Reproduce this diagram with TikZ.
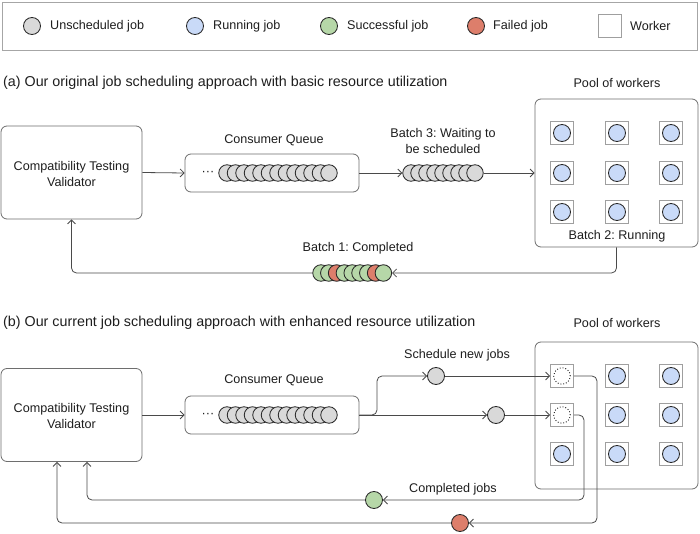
\documentclass[tikz,border=0pt]{standalone}
\usepackage{fontspec}
\setmainfont{Liberation Sans}
\usetikzlibrary{arrows.meta}
\definecolor{jgrey}{HTML}{D9D9D9}
\definecolor{jblue}{HTML}{C9DAF8}
\definecolor{jgreen}{HTML}{B6D7A8}
\definecolor{jred}{HTML}{DD7E6B}
\definecolor{edgec}{HTML}{6E6E6E}
\definecolor{linec}{HTML}{4A4A4A}
\definecolor{txtc}{HTML}{1E1E1E}
\frenchspacing
\begin{document}
\begin{tikzpicture}[x=1pt,y=-1pt,
  font=\fontsize{12.6}{16}\selectfont,
  every node/.style={text=txtc},
  job/.style={circle, draw=black!85, line width=0.85pt, minimum size=16.5pt, inner sep=0pt},
  bigjob/.style={job, minimum size=17pt},
  worker/.style={draw=gray!75, fill=white, line width=0.8pt, minimum size=23pt, inner sep=0pt},
  panel/.style={draw=edgec, line width=0.8pt, rounded corners=6pt, fill=white, inner sep=0pt},
  arr/.style={draw=linec, line width=0.8pt, -{Straight Barb[length=4pt,width=8pt]}},
  lbl/.style={inner sep=0pt, align=center},
  ttl/.style={lbl, font=\fontsize{14.3}{17}\selectfont}
]
\useasboundingbox (0,0) rectangle (700,534);
\fill[white] (0,0) rectangle (700,534);

% ---------------- legend ----------------
\node[draw=gray!70, line width=0.9pt, minimum width=695pt, minimum height=48pt, inner sep=0pt] (legend) at (349.5,26) {};
\node[bigjob, fill=jgrey] (lg1) at (32,26) {};
\node[lbl, anchor=west] (lt1) at (50,26) {Unscheduled job};
\node[bigjob, fill=jblue] (lg2) at (195,26) {};
\node[lbl, anchor=west] (lt2) at (213,26) {Running job};
\node[bigjob, fill=jgreen] (lg3) at (329,26) {};
\node[lbl, anchor=west] (lt3) at (347,26) {Successful job};
\node[bigjob, fill=jred] (lg4) at (476,26) {};
\node[lbl, anchor=west] (lt4) at (493,26) {Failed job};
\node[worker] (lg5) at (610,26) {};
\node[lbl, anchor=west] (lt5) at (630,26) {Worker};

% ---------------- part (a) ----------------
\node[ttl, anchor=west] (titleA) at (3,83) {(a) Our original job scheduling approach with basic resource utilization};

\node[panel, minimum width=141pt, minimum height=93pt] (ctvA) at (71.5,172.5) {};
\node[lbl] (ctvAt) at (71.5,174) {Compatibility Testing\\Validator};

\node[panel, minimum width=174pt, minimum height=38pt] (qA) at (272,173) {};
\node[lbl] (qAl) at (274,140) {Consumer Queue};
\node[lbl] (qAd) at (208,173) {\textperiodcentered\textperiodcentered\textperiodcentered};
\foreach \i in {1,...,13} \node[job, fill=jgrey] (qa\i) at ({227+(\i-1)*8.5},173) {};

\draw[arr] (ctvA.east) -- (qA.west);

\foreach \i in {1,...,9} \node[job, fill=jgrey] (bt\i) at ({411+(\i-1)*8},173) {};
\node[lbl] (btl) at (443,140.5) {Batch 3: Waiting to\\be scheduled};
\draw[arr] (qA.east) -- (bt1.west);

\node[panel, minimum width=163pt, minimum height=148pt] (poolA) at (616.5,173) {};
\node[lbl] (poolAl) at (617,83) {Pool of workers};
\foreach \r/\y in {1/133,2/173,3/212}
  \foreach \c/\x in {1/562,2/617,3/671} {
    \node[worker] (wa\r\c) at (\x,\y) {};
    \node[bigjob, fill=jblue] (ja\r\c) at (\x,\y) {};
  }
\node[lbl] (runl) at (617,236) {Batch 2: Running};
\draw[arr] (bt9.east) -- (poolA.west);

\foreach \i/\col in {1/jgreen,2/jgreen,3/jred,4/jgreen,5/jgreen,6/jgreen,7/jgreen,8/jred,9/jgreen}
  \node[job, fill=\col] (bo\i) at ({321+(\i-1)*7.8},273) {};
\node[lbl] (bol) at (358,248) {Batch 1: Completed};
\draw[arr, rounded corners=5pt] (poolA.south) |- (bo9.east);
\draw[arr, rounded corners=5pt] (bo1.west) -| (ctvA.south);

% ---------------- part (b) ----------------
\node[ttl, anchor=west] (titleB) at (3,323) {(b) Our current job scheduling approach with enhanced resource utilization};

\node[panel, minimum width=141pt, minimum height=93pt] (ctvB) at (71.5,415) {};
\node[lbl] (ctvBt) at (71.5,416) {Compatibility Testing\\Validator};

\node[panel, minimum width=174pt, minimum height=38pt] (qB) at (272,415) {};
\node[lbl] (qBl) at (274,380) {Consumer Queue};
\node[lbl] (qBd) at (208,415) {\textperiodcentered\textperiodcentered\textperiodcentered};
\foreach \i in {1,...,13} \node[job, fill=jgrey] (qb\i) at ({227+(\i-1)*8.5},415) {};
\draw[arr] (ctvB.east) -- (qB.west);

\node[panel, minimum width=163pt, minimum height=147pt] (poolB) at (616.5,415.5) {};
\node[lbl] (poolBl) at (617,323) {Pool of workers};
\foreach \r/\y in {1/376,2/415,3/454}
  \foreach \c/\x in {1/562,2/617,3/671}
    \node[worker] (wb\r\c) at (\x,\y) {};
\foreach \r/\c in {3/1,1/2,2/2,3/2,1/3,2/3,3/3}
  \node[bigjob, fill=jblue] (jb\r\c) at (wb\r\c) {};
\node[job, draw=black, dotted, fill=white] (jb11) at (wb11) {};
\node[job, draw=black, dotted, fill=white] (jb21) at (wb21) {};

\node[bigjob, fill=jgrey] (s1) at (436,376) {};
\node[bigjob, fill=jgrey] (s2) at (496,415) {};
\node[lbl] (sl) at (457,355) {Schedule new jobs};
\coordinate (br) at (377,415);
\draw[arr, rounded corners=5pt] (qB.east) -- (br) |- (s1.west);
\draw[arr] (qB.east) -- (s2.west);
\draw[arr] (s1.east) -- (wb11.west);
\draw[arr] (s2.east) -- (wb21.west);

\node[bigjob, fill=jgreen] (cg) at (374,500) {};
\node[bigjob, fill=jred] (cr) at (460,523) {};
\node[lbl] (cl) at (453,489) {Completed jobs};
\coordinate (gx) at (584,415);
\coordinate (rx) at (597,376);
\draw[arr, rounded corners=5pt] (wb21.east) -- (gx) |- (cg.east);
\draw[arr, rounded corners=5pt] (wb11.east) -- (rx) |- (cr.east);
\draw[arr, rounded corners=5pt] (cg.west) -| ([xshift=15.5pt]ctvB.south);
\draw[arr, rounded corners=5pt] (cr.west) -| ([xshift=-14.5pt]ctvB.south);
\end{tikzpicture}
\end{document}
